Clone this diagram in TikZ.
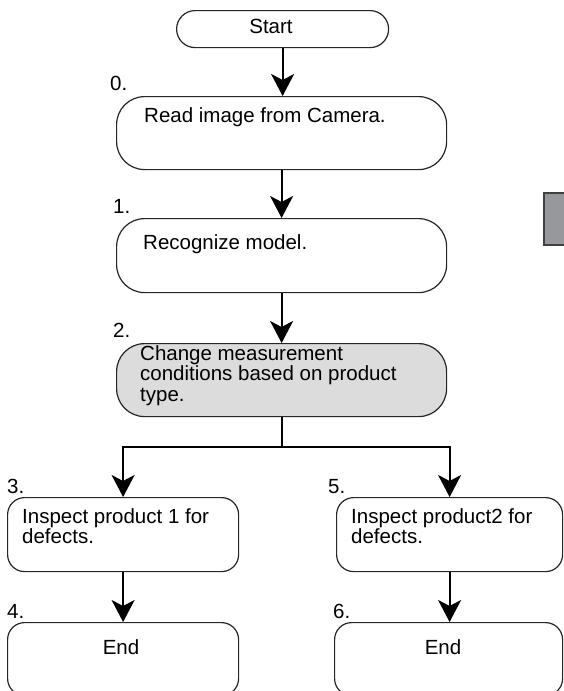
\documentclass[tikz,border=0pt]{standalone}
\usepackage{fontspec}
\setmainfont{Liberation Sans}
\usetikzlibrary{arrows.meta}
\definecolor{boxgray}{RGB}{220,220,221}
\definecolor{tabgray}{RGB}{151,152,155}
\begin{document}
\begin{tikzpicture}[x=1pt,y=-1pt,
  font=\fontsize{20.5}{20.5}\selectfont,
  box/.style={draw=black!85, line width=1.2pt, inner sep=0pt, anchor=north west},
  txt/.style={inner sep=0pt, align=left, anchor=north west},
  num/.style={inner sep=0pt, anchor=base west},
  arr/.style={line width=2pt, -{Stealth[length=22pt,width=23pt,inset=6pt]}},
  ln/.style={line width=2pt}]
\useasboundingbox (0,0) rectangle (563,691);

% start
\node[box, rounded corners=18.5pt, minimum width=212pt, minimum height=37pt] (start) at (176,10) {};
\node[inner sep=0pt, anchor=base] (starttxt) at (271,33) {Start};

% step 0
\node[box, rounded corners=28pt, minimum width=330pt, minimum height=73pt] (b0) at (116,96) {};
\node[num] (n0) at (110,90) {0.};
\node[num] (t0) at (144,122) {Read image from Camera.};

% step 1
\node[box, rounded corners=28pt, minimum width=330pt, minimum height=74pt] (b1) at (116,218) {};
\node[num] (n1) at (113,213) {1.};
\node[num] (t1) at (143,249) {Recognize model.};

% step 2
\node[box, fill=boxgray, rounded corners=28pt, minimum width=330pt, minimum height=73pt] (b2) at (116,343) {};
\node[num] (n2) at (113,337) {2.};
\node[txt] (t2) at (140,345) {Change measurement\\conditions based on product\\type.};

% step 3
\node[box, rounded corners=17pt, minimum width=231pt, minimum height=74pt] (b3) at (7,497) {};
\node[num] (n3) at (7,493) {3.};
\node[txt] (t3) at (22,508) {Inspect product 1 for\\defects.};

% step 4
\node[box, rounded corners=17pt, minimum width=231pt, minimum height=73pt] (b4) at (7,622) {};
\node[num] (n4) at (7,618) {4.};
\node[inner sep=0pt, anchor=base] (t4) at (121,654) {End};

% step 5
\node[box, rounded corners=17pt, minimum width=226pt, minimum height=74pt] (b5) at (336,497) {};
\node[num] (n5) at (328,493) {5.};
\node[txt] (t5) at (351,508) {Inspect product2 for\\defects.};

% step 6
\node[box, rounded corners=17pt, minimum width=228pt, minimum height=73pt] (b6) at (334,622) {};
\node[num] (n6) at (333,618) {6.};
\node[inner sep=0pt, anchor=base] (t6) at (443,654) {End};

% side tab
\node[draw=black!75, fill=tabgray, line width=1.5pt, inner sep=0pt, anchor=north west,
      minimum width=40pt, minimum height=52pt] (tab) at (543,192) {};

% connectors
\coordinate (lvl) at (0,447);
\coordinate (br) at (b2.south |- lvl);
\draw[arr] (start.south) -- (start.south |- b0.north);
\draw[arr] (b0.south) -- (b1.north);
\draw[arr] (b1.south) -- (b2.north);
\draw[ln] (b2.south) -- (br);
\draw[arr] (br) -| (b3.north);
\draw[arr] (br) -| (b5.north);
\draw[arr] (b3.south) -- (b4.north);
\draw[arr] (b5.south) -- (b5.south |- b6.north);
\end{tikzpicture}
\end{document}
